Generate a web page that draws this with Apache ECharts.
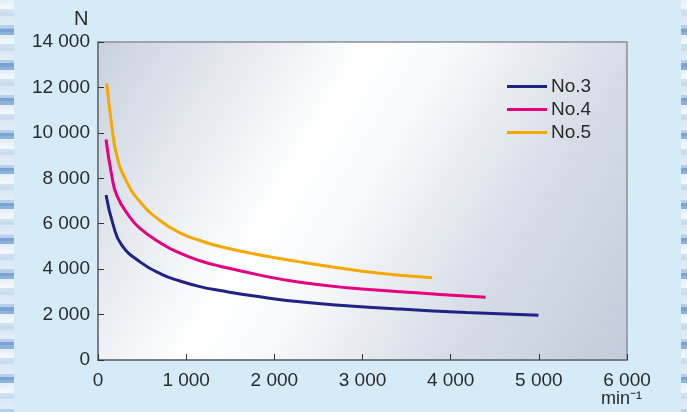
<!DOCTYPE html>
<html>
<head>
<meta charset="utf-8">
<script src="https://cdn.jsdelivr.net/npm/echarts@6/dist/echarts.min.js"></script>
<style>
html,body{margin:0;padding:0;background:#d5ebf8;}
#c{width:687px;height:412px;}
</style>
</head>
<body>
<div id="c"></div>
<script>
// ---- data (speed min^-1, load N) ----
const seriesNames = ['No.3', 'No.4', 'No.5'];
const no3 = [[91,7260],[173,5940],[269,5060],[476,4321],[722,3770],[930,3480],[1156,3230],[1383,3060],[1837,2780],[2290,2560],[2857,2380],[3424,2240],[4180,2092],[4996,1970]];
const no4 = [[91,9710],[155,8140],[212,7260],[344,6380],[476,5793],[722,5120],[930,4700],[1156,4370],[1383,4130],[1837,3736],[2290,3420],[2857,3170],[3424,3010],[3878,2885],[4396,2766]];
const no5 = [[99,12180],[155,10340],[212,9020],[306,7995],[476,6965],[722,6085],[930,5600],[1156,5260],[1383,5000],[1837,4620],[2290,4320],[2857,3985],[3197,3820],[3424,3735],[3790,3617]];
const xTickLabels = ['0','1 000','2 000','3 000','4 000','5 000','6 000'];
const yTickLabels = ['0','2 000','4 000','6 000','8 000','10 000','12 000','14 000'];

const colors = ['#1d2486', '#e4007f', '#f6a800'];
const fontFam = '"Liberation Sans", Arial, sans-serif';
const txtColor = '#2a2a2a';

// decorative striped side strips
function stripeGradient(){
  const stops = [];
  const n = 130;
  const pal = ['#e6f0f9','#b7cfea','#dbe8f5','#f2f7fc','#8fb2dc','#e0ecf7','#c8dbef','#eef4fa','#7aa3d4','#dfeaf6','#cfe0f1'];
  for(let i=0;i<n;i++){
    const c = pal[(i*7)%pal.length];
    stops.push({offset:i/n, color:c});
    stops.push({offset:(i+1)/n - 0.0001, color:c});
  }
  return new echarts.graphic.LinearGradient(0,0,0,1,stops);
}

const chart = echarts.init(document.getElementById('c'));
chart.setOption({
  backgroundColor: '#d5ebf8',
  animation: false,
  graphic: [
    {type:'rect', left:0, top:0, shape:{width:14, height:412}, style:{fill: stripeGradient()}, z:-1},
    {type:'rect', left:681, top:0, shape:{width:6, height:412}, style:{fill: stripeGradient()}, z:-1},
    {type:'text', left:74, top:9, style:{text:'N', fontSize:20, fill:txtColor, fontFamily:fontFam}},
    {type:'text', left:601, top:390, style:{text:'min⁻¹', fontSize:18, fill:txtColor, fontFamily:fontFam}}
  ],
  grid: {
    left: 98, right: 60, top: 42, bottom: 52,
    show: true,
    borderColor: '#8a8f96', borderWidth: 1.5,
    backgroundColor: new echarts.graphic.LinearGradient(0,0,1,1,[
      {offset:0, color:'#c8d1dd'},
      {offset:0.38, color:'#ffffff'},
      {offset:0.5, color:'#f7f9fb'},
      {offset:0.75, color:'#d5dce6'},
      {offset:1, color:'#c2cddb'}
    ])
  },
  legend: {
    orient: 'vertical',
    left: 502, top: 72,
    itemWidth: 40, itemHeight: 3, itemGap: 4,
    icon: 'rect',
    data: seriesNames,
    textStyle: {fontSize: 19, color: txtColor, fontFamily: fontFam, padding:[0,0,0,-1]}
  },
  xAxis: {
    type: 'value', min: 0, max: 6000, interval: 1000,
    axisLine: {show:true, lineStyle:{color:'#6e737a', width:1.5}},
    axisTick: {show:true, inside:true, length:6, lineStyle:{color:'#333', width:1}},
    splitLine: {show:false},
    axisLabel: {margin: 11, fontSize: 19, color: txtColor, fontFamily: fontFam,
      formatter: v => xTickLabels[Math.round(v/1000)]}
  },
  yAxis: {
    type: 'value', min: 0, max: 14000, interval: 2000,
    axisLine: {show:true, lineStyle:{color:'#6e737a', width:1.5}},
    axisTick: {show:true, inside:true, length:6, lineStyle:{color:'#333', width:1}},
    splitLine: {show:false},
    axisLabel: {margin: 8, fontSize: 19, color: txtColor, fontFamily: fontFam,
      formatter: v => yTickLabels[Math.round(v/2000)]}
  },
  series: [no3, no4, no5].map((d, i) => ({
    name: seriesNames[i],
    type: 'line',
    data: d,
    smooth: 0.5,
    showSymbol: false,
    symbol: 'none',
    color: colors[i],
    lineStyle: {color: colors[i], width: 3}
  }))
});
</script>
</body>
</html>
